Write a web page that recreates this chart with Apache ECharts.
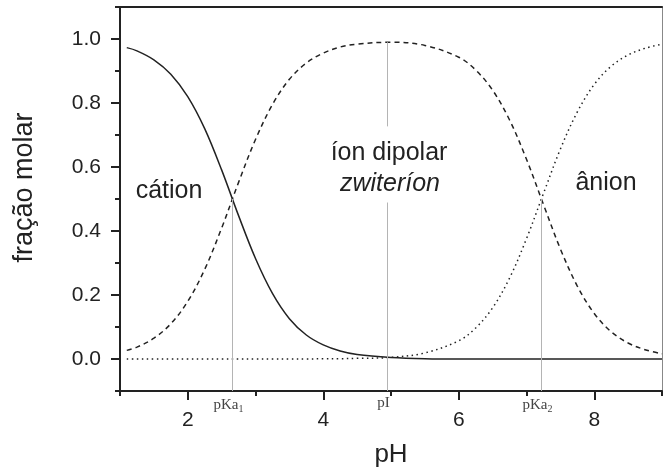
<!DOCTYPE html>
<html>
<head>
<meta charset="utf-8">
<script src="https://cdn.jsdelivr.net/npm/echarts@6/dist/echarts.min.js"></script>
<style>
  html, body { margin: 0; padding: 0; background: #fff; }
  #chart { width: 663px; height: 467px; }
</style>
</head>
<body>
<div id="chart"></div>
<script>
// valores
const ph = [1.1, 1.25, 1.5, 1.75, 2.0, 2.25, 2.5, 2.75, 3.0, 3.25, 3.5, 3.75, 4.0, 4.25, 4.5,
  5.0, 5.5, 6.0, 6.25, 6.5, 6.75, 7.0, 7.25, 7.5, 7.75, 8.0, 8.25, 8.5, 8.75, 9.0]
const cation = [0.973, 0.963, 0.935, 0.890, 0.820, 0.720, 0.591, 0.448, 0.314, 0.205, 0.126, 0.075, 0.044, 0.025, 0.014,
  0.005, 0.001, 0, 0, 0, 0, 0, 0, 0, 0, 0, 0, 0, 0, 0]
const zwitterion = [0.027, 0.037, 0.065, 0.110, 0.180, 0.280, 0.409, 0.552, 0.686, 0.795, 0.874, 0.925, 0.956, 0.975, 0.984,
  0.990, 0.980, 0.943, 0.903, 0.840, 0.747, 0.624, 0.483, 0.344, 0.228, 0.142, 0.085, 0.050, 0.029, 0.016]
const anion = [0, 0, 0, 0, 0, 0, 0, 0, 0, 0, 0, 0, 0.001, 0.001, 0.002,
  0.005, 0.019, 0.057, 0.097, 0.160, 0.253, 0.376, 0.517, 0.656, 0.772, 0.858, 0.915, 0.950, 0.971, 0.984]

const pKa1 = 2.66
const pI = 4.95
const pKa2 = 7.22

const xTicksMajor = [2, 4, 6, 8]
const yTicksMajor = [0, 0.2, 0.4, 0.6, 0.8, 1.0]

const sans = 'Liberation Sans, Arial, sans-serif'
const serif = 'Liberation Serif, Times New Roman, serif'
const ink = '#222'
const guide = '#b4b4b4'

const pairs = (ys) => ph.map((x, i) => [x, ys[i]])

const chart = echarts.init(document.getElementById('chart'))

const lineSeries = (name, ys, type) => ({
  name,
  type: 'line',
  data: pairs(ys),
  showSymbol: false,
  smooth: 0.35,
  silent: true,
  z: 3,
  lineStyle: { color: ink, width: 1.5, type }
})

const guideLabel = {
  show: true,
  position: 'start',
  distance: 5,
  offset: [-4, 0],
  fontFamily: serif,
  fontSize: 15,
  color: '#444',
  formatter: (p) => p.name,
  rich: {
    sub: { fontFamily: serif, fontSize: 10, color: '#444', padding: [8, 0, 0, 0] }
  }
}

chart.setOption({
  animation: false,
  grid: { left: 120, right: 1, top: 7, bottom: 76, outerBoundsMode: 'none' },
  xAxis: [
    {
      type: 'value', min: 1, max: 9, interval: 1, position: 'bottom',
      name: 'pH', nameLocation: 'middle', nameGap: 51,
      nameTextStyle: { fontFamily: sans, fontSize: 26, color: ink },
      axisLine: { onZero: false, lineStyle: { color: ink, width: 2 } },
      axisTick: { length: 5, lineStyle: { color: ink, width: 2 } },
      axisLabel: {
        fontFamily: sans, fontSize: 21, color: ink, margin: 19,
        formatter: (v) => (v % 2 === 0 ? String(v) : '')
      },
      splitLine: { show: false }
    },
    {
      type: 'value', min: 1, max: 9, position: 'bottom',
      axisLine: { show: false, onZero: false },
      axisTick: { show: true, length: 9, customValues: xTicksMajor, lineStyle: { color: ink, width: 2 } },
      axisLabel: { show: false },
      splitLine: { show: false }
    },
    {
      type: 'value', min: 1, max: 9, position: 'top',
      axisLine: { show: true, onZero: false, lineStyle: { color: ink, width: 2 } },
      axisTick: { show: false },
      axisLabel: { show: false },
      splitLine: { show: false }
    }
  ],
  yAxis: [
    {
      type: 'value', min: -0.1, max: 1.1, interval: 0.1, position: 'left',
      name: 'fração molar', nameLocation: 'middle', nameGap: 82,
      nameTextStyle: { fontFamily: sans, fontSize: 27, color: ink, padding: [0, 0, 0, 23] },
      axisLine: { show: true, onZero: false, lineStyle: { color: ink, width: 2 } },
      axisTick: { show: true, length: 5, lineStyle: { color: ink, width: 2 } },
      axisLabel: {
        fontFamily: sans, fontSize: 21, color: ink, margin: 19,
        formatter: (v) => {
          const k = Math.round(v * 10)
          return k >= 0 && k <= 10 && k % 2 === 0 ? (k / 10).toFixed(1) : ''
        }
      },
      splitLine: { show: false }
    },
    {
      type: 'value', min: -0.1, max: 1.1, position: 'left',
      axisLine: { show: false, onZero: false },
      axisTick: { show: true, length: 9, customValues: yTicksMajor, lineStyle: { color: ink, width: 2 } },
      axisLabel: { show: false },
      splitLine: { show: false }
    },
    {
      type: 'value', min: -0.1, max: 1.1, position: 'right',
      axisLine: { show: true, onZero: false, lineStyle: { color: '#888', width: 1 } },
      axisTick: { show: false },
      axisLabel: { show: false },
      splitLine: { show: false }
    }
  ],
  series: [
    {
      type: 'line',
      data: [],
      silent: true,
      markLine: {
        silent: true,
        symbol: 'none',
        animation: false,
        lineStyle: { color: guide, width: 1, type: 'solid' },
        label: guideLabel,
        data: [
          [{ name: 'pKa{sub|1}', coord: [pKa1, -0.1] }, { coord: [pKa1, 0.5] }],
          [{ name: 'pI', coord: [pI, -0.1] }, { coord: [pI, 0.489] }],
          [{ name: '', coord: [pI, 0.727], label: { show: false } }, { coord: [pI, 0.99] }],
          [{ name: 'pKa{sub|2}', coord: [pKa2, -0.1] }, { coord: [pKa2, 0.5] }]
        ]
      }
    },
    lineSeries('ânion', anion, [1.5, 3.5]),
    lineSeries('zwiteríon', zwitterion, [5, 4]),
    lineSeries('cátion', cation, 'solid')
  ],
  graphic: [
    { type: 'text', x: 169, y: 191, silent: true,
      style: { text: 'cátion', align: 'center', verticalAlign: 'middle', font: '25px ' + sans, fill: ink } },
    { type: 'text', x: 389, y: 153, silent: true,
      style: { text: 'íon dipolar', align: 'center', verticalAlign: 'middle', font: '25px ' + sans, fill: ink } },
    { type: 'text', x: 390, y: 184, silent: true,
      style: { text: 'zwiteríon', align: 'center', verticalAlign: 'middle', font: 'italic 25px ' + sans, fill: ink } },
    { type: 'text', x: 606, y: 183, silent: true,
      style: { text: 'ânion', align: 'center', verticalAlign: 'middle', font: '25px ' + sans, fill: ink } }
  ]
})
</script>
</body>
</html>
